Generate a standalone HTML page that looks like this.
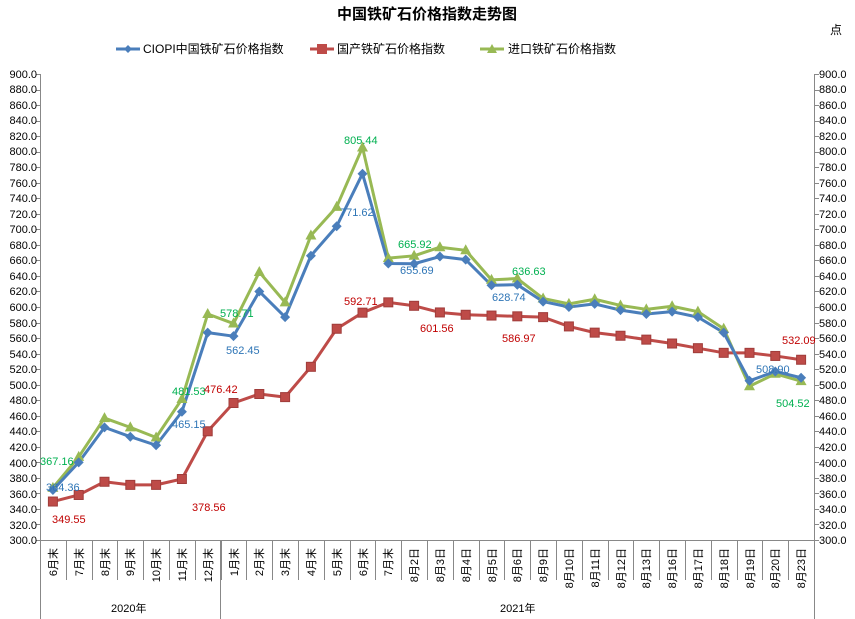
<!DOCTYPE html><html><head><meta charset="utf-8"><style>body{margin:0;background:#fff}svg{display:block;font-family:"Liberation Sans","Noto Sans CJK SC",sans-serif}</style></head><body>
<svg id="s" width="855" height="619" viewBox="0 0 855 619" xmlns="http://www.w3.org/2000/svg">
<text x="427" y="19" text-anchor="middle" font-size="15" font-weight="bold">中国铁矿石价格指数走势图</text>
<text x="830" y="34" font-size="12">点</text>
<g font-size="12">
<line x1="116" y1="49" x2="140" y2="49" stroke="#4a7ebb" stroke-width="3"/><path d="M128 45 L132 49 L128 53 L124 49Z" fill="#4a7ebb"/><text x="143" y="53">CIOPI中国铁矿石价格指数</text>
<line x1="310" y1="49" x2="334" y2="49" stroke="#be4b48" stroke-width="3"/><rect x="317" y="44" width="10" height="10" fill="#be4b48"/><text x="337" y="53">国产铁矿石价格指数</text>
<line x1="480" y1="49" x2="504" y2="49" stroke="#98b954" stroke-width="3"/><path d="M492 44 L497 53 L487 53Z" fill="#98b954"/><text x="508" y="53">进口铁矿石价格指数</text>
</g>
<g id="ax" stroke="#888" stroke-width="1" fill="none"></g>
<g id="ser"></g>
<g font-size="11" text-anchor="end">
<text x="37" y="78">900.0</text><text x="37" y="93">880.0</text><text x="37" y="109">860.0</text><text x="37" y="124">840.0</text><text x="37" y="140">820.0</text><text x="37" y="155">800.0</text><text x="37" y="171">780.0</text><text x="37" y="187">760.0</text><text x="37" y="202">740.0</text><text x="37" y="218">720.0</text><text x="37" y="233">700.0</text><text x="37" y="249">680.0</text><text x="37" y="264">660.0</text><text x="37" y="280">640.0</text><text x="37" y="295">620.0</text><text x="37" y="311">600.0</text><text x="37" y="327">580.0</text><text x="37" y="342">560.0</text><text x="37" y="358">540.0</text><text x="37" y="373">520.0</text><text x="37" y="389">500.0</text><text x="37" y="404">480.0</text><text x="37" y="420">460.0</text><text x="37" y="435">440.0</text><text x="37" y="451">420.0</text><text x="37" y="467">400.0</text><text x="37" y="482">380.0</text><text x="37" y="498">360.0</text><text x="37" y="513">340.0</text><text x="37" y="529">320.0</text><text x="37" y="544">300.0</text>
</g>
<g font-size="11">
<text x="819" y="78">900.0</text><text x="819" y="93">880.0</text><text x="819" y="109">860.0</text><text x="819" y="124">840.0</text><text x="819" y="140">820.0</text><text x="819" y="155">800.0</text><text x="819" y="171">780.0</text><text x="819" y="187">760.0</text><text x="819" y="202">740.0</text><text x="819" y="218">720.0</text><text x="819" y="233">700.0</text><text x="819" y="249">680.0</text><text x="819" y="264">660.0</text><text x="819" y="280">640.0</text><text x="819" y="295">620.0</text><text x="819" y="311">600.0</text><text x="819" y="327">580.0</text><text x="819" y="342">560.0</text><text x="819" y="358">540.0</text><text x="819" y="373">520.0</text><text x="819" y="389">500.0</text><text x="819" y="404">480.0</text><text x="819" y="420">460.0</text><text x="819" y="435">440.0</text><text x="819" y="451">420.0</text><text x="819" y="467">400.0</text><text x="819" y="482">380.0</text><text x="819" y="498">360.0</text><text x="819" y="513">340.0</text><text x="819" y="529">320.0</text><text x="819" y="544">300.0</text>
</g>
<g font-size="11" text-anchor="end">
<text transform="translate(57,548) rotate(-90)">6月末</text><text transform="translate(83,548) rotate(-90)">7月末</text><text transform="translate(109,548) rotate(-90)">8月末</text><text transform="translate(134,548) rotate(-90)">9月末</text><text transform="translate(160,548) rotate(-90)">10月末</text><text transform="translate(186,548) rotate(-90)">11月末</text><text transform="translate(212,548) rotate(-90)">12月末</text><text transform="translate(238,548) rotate(-90)">1月末</text><text transform="translate(263,548) rotate(-90)">2月末</text><text transform="translate(289,548) rotate(-90)">3月末</text><text transform="translate(315,548) rotate(-90)">4月末</text><text transform="translate(341,548) rotate(-90)">5月末</text><text transform="translate(367,548) rotate(-90)">6月末</text><text transform="translate(392,548) rotate(-90)">7月末</text><text transform="translate(418,548) rotate(-90)">8月2日</text><text transform="translate(444,548) rotate(-90)">8月3日</text><text transform="translate(470,548) rotate(-90)">8月4日</text><text transform="translate(496,548) rotate(-90)">8月5日</text><text transform="translate(521,548) rotate(-90)">8月6日</text><text transform="translate(547,548) rotate(-90)">8月9日</text><text transform="translate(573,548) rotate(-90)">8月10日</text><text transform="translate(599,548) rotate(-90)">8月11日</text><text transform="translate(625,548) rotate(-90)">8月12日</text><text transform="translate(650,548) rotate(-90)">8月13日</text><text transform="translate(676,548) rotate(-90)">8月16日</text><text transform="translate(702,548) rotate(-90)">8月17日</text><text transform="translate(728,548) rotate(-90)">8月18日</text><text transform="translate(754,548) rotate(-90)">8月19日</text><text transform="translate(779,548) rotate(-90)">8月20日</text><text transform="translate(805,548) rotate(-90)">8月23日</text>
</g>
<g font-size="11">
<text x="111" y="612">2020年</text><text x="500" y="612">2021年</text>
</g>
<g font-size="11">
<text x="46" y="491" fill="#2e75b6">364.36</text><text x="40" y="465" fill="#00b050">367.16</text><text x="52" y="523" fill="#c00000">349.55</text>
<text x="192" y="511" fill="#c00000">378.56</text><text x="172" y="428" fill="#2e75b6">465.15</text><text x="172" y="395" fill="#00b050">481.53</text>
<text x="204" y="393" fill="#c00000">476.42</text><text x="220" y="317" fill="#00b050">578.71</text><text x="226" y="354" fill="#2e75b6">562.45</text>
<text x="340" y="216" fill="#2e75b6">771.62</text><text x="344" y="144" fill="#00b050">805.44</text><text x="344" y="305" fill="#c00000">592.71</text>
<text x="400" y="274" fill="#2e75b6">655.69</text><text x="398" y="248" fill="#00b050">665.92</text><text x="420" y="332" fill="#c00000">601.56</text>
<text x="492" y="301" fill="#2e75b6">628.74</text><text x="512" y="275" fill="#00b050">636.63</text><text x="502" y="342" fill="#c00000">586.97</text>
<text x="782" y="344" fill="#c00000">532.09</text><text x="756" y="373" fill="#2e75b6">508.90</text><text x="776" y="407" fill="#00b050">504.52</text>
</g>
</svg>
<script>
var NS="http://www.w3.org/2000/svg",ax=document.getElementById('ax'),sg=document.getElementById('ser');
function el(p,t,a){var e=document.createElementNS(NS,t);for(var k in a)e.setAttribute(k,a[k]);p.appendChild(e);return e;}
var Y=function(v){return 74+(900-v)*0.7767},X=function(i){return 52.9+25.8*i};
el(ax,'line',{x1:40.5,y1:74,x2:40.5,y2:619});el(ax,'line',{x1:814.5,y1:74,x2:814.5,y2:619});
el(ax,'line',{x1:40,y1:540.5,x2:815,y2:540.5});el(ax,'line',{x1:220.5,y1:540,x2:220.5,y2:619});
for(var v=300;v<=900;v+=20){var y=Math.round(Y(v))+.5;el(ax,'line',{x1:36,y1:y,x2:40,y2:y});el(ax,'line',{x1:815,y1:y,x2:819,y2:y});}
for(var i=1;i<30;i++){var x=Math.round(40+25.8*i)+.5;el(ax,'line',{x1:x,y1:540,x2:x,y2:580});}
var C=[364.36,400,445,433,422,465.15,567,562.45,620,587,666,704,771.62,656,655.69,665,661,628,628.74,607,600,604,596,591,594,587,567,505,517,508.9];
var R=[349.55,358,375,371,371,378.56,440,476.42,488,484,523,572,592.71,606,601.56,593,590,589,588,586.97,575,567,563,558,553,547,541,541,537,532.09];
var G=[367.16,407,457,445,432,481.53,591,578.71,645,606,692,729,805.44,663,665.92,677,673,635,636.63,611,604,610,602,597,601,594,572,498,514,504.52];
function line(d,c){el(sg,'polyline',{points:d.map(function(v,i){return X(i)+','+Y(v)}).join(' '),fill:'none',stroke:c,'stroke-width':3,'stroke-linejoin':'round'});}
line(R,'#be4b48');line(G,'#98b954');line(C,'#4a7ebb');
R.forEach(function(v,i){el(sg,'rect',{x:X(i)-4.5,y:Y(v)-4.5,width:9,height:9,fill:'#be4b48',stroke:'#a03c3a'})});
G.forEach(function(v,i){var x=X(i),y=Y(v);el(sg,'path',{d:'M'+x+' '+(y-6)+'L'+(x+5.5)+' '+(y+4)+'L'+(x-5.5)+' '+(y+4)+'Z',fill:'#98b954'})});
C.forEach(function(v,i){var x=X(i),y=Y(v);el(sg,'path',{d:'M'+x+' '+(y-5)+'L'+(x+5)+' '+y+'L'+x+' '+(y+5)+'L'+(x-5)+' '+y+'Z',fill:'#4a7ebb'})});
</script>
</body></html>
